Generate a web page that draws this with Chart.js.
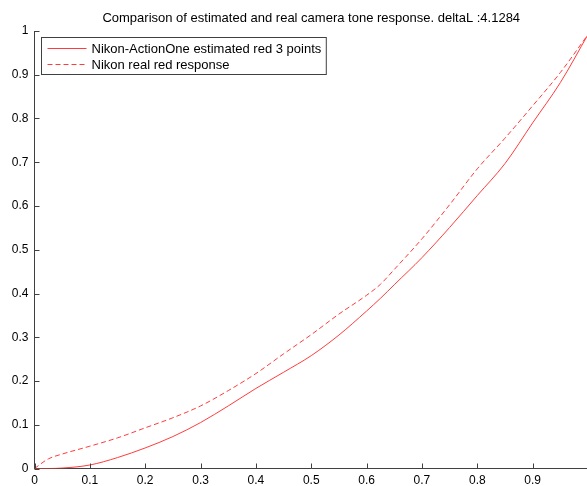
<!DOCTYPE html>
<html>
<head>
<meta charset="utf-8">
<script src="https://cdn.jsdelivr.net/npm/chart.js@4/dist/chart.umd.min.js"></script>
<style>
  html, body { margin: 0; padding: 0; background: #fff; overflow: hidden; }
  #wrap { position: relative; width: 588px; height: 486px; }
</style>
</head>
<body>
<div id="wrap"><canvas id="c"></canvas></div>
<script>
// Normalised input level (x) for both tone curves
const inputLevels = [0, 0.025, 0.05, 0.1, 0.15, 0.2, 0.25, 0.3, 0.35, 0.4, 0.45, 0.5,
                     0.55, 0.6, 0.625, 0.65, 0.7, 0.75, 0.8, 0.85, 0.9, 0.95, 1.0];

// Estimated red response (3-point fit)
const estimatedRed = [0, 0.0, 0.001, 0.008, 0.025, 0.047, 0.073, 0.105, 0.143, 0.183, 0.220, 0.258,
                      0.305, 0.360, 0.389, 0.420, 0.482, 0.551, 0.624, 0.697, 0.790, 0.882, 0.992];

// Measured red response of the camera
const realRed = [0, 0.022, 0.033, 0.051, 0.070, 0.093, 0.116, 0.143, 0.178, 0.217, 0.262, 0.306,
                 0.353, 0.396, 0.421, 0.455, 0.525, 0.603, 0.685, 0.755, 0.829, 0.905, 0.992];

const xTicks = [0, 0.1, 0.2, 0.3, 0.4, 0.5, 0.6, 0.7, 0.8, 0.9];
const yTicks = [0, 0.1, 0.2, 0.3, 0.4, 0.5, 0.6, 0.7, 0.8, 0.9, 1];

const seriesLabels = ['Nikon-ActionOne estimated red 3 points', 'Nikon real red response'];
const titleText = 'Comparison of estimated and real camera tone response. deltaL :4.1284';

const FONT = '"Liberation Sans", Arial, Helvetica, sans-serif';
const AXIS = '#404040';
const RED = 'rgb(255,60,60)';

const toPoints = (ys) => inputLevels.map((x, i) => ({ x, y: ys[i] }));

// Title centred over the plotting area
const titlePlugin = {
  id: 'axesTitle',
  afterDraw(chart) {
    const { ctx, chartArea } = chart;
    ctx.save();
    ctx.font = '13px ' + FONT;
    ctx.fillStyle = '#000';
    ctx.textAlign = 'center';
    ctx.textBaseline = 'middle';
    ctx.fillText(titleText, (chartArea.left + chartArea.right) / 2, 18);
    ctx.restore();
  }
};

// Tick marks pointing into the plot
const innerTicks = {
  id: 'innerTicks',
  afterDraw(chart) {
    const { ctx, chartArea, scales } = chart;
    ctx.save();
    ctx.strokeStyle = AXIS;
    ctx.lineWidth = 1;
    ctx.beginPath();
    xTicks.concat([1]).forEach(v => {
      const px = Math.round(scales.x.getPixelForValue(v)) + 0.5;
      ctx.moveTo(px, chartArea.bottom);
      ctx.lineTo(px, chartArea.bottom - 5);
    });
    yTicks.forEach(v => {
      const py = Math.round(scales.y.getPixelForValue(v)) + 0.5;
      ctx.moveTo(chartArea.left, py);
      ctx.lineTo(chartArea.left + 5, py);
    });
    ctx.stroke();
    ctx.restore();
  }
};

// Boxed legend in the upper-left corner of the plot
const boxLegend = {
  id: 'boxLegend',
  afterDraw(chart) {
    const { ctx, chartArea } = chart;
    const ds = chart.data.datasets;
    ctx.save();
    ctx.font = '13px ' + FONT;
    const textW = Math.max(...ds.map(d => ctx.measureText(d.label).width));
    const left = Math.round(chartArea.left + 6) + 0.5;
    const top = Math.round(chartArea.top + 6) + 0.5;
    const rowH = 16;
    const sampleW = 39;
    const w = 5 + sampleW + 5 + textW + 6;
    const h = 10 + rowH * ds.length - rowH + 11;
    ctx.fillStyle = '#fff';
    ctx.fillRect(left, top, w, h);
    ctx.strokeStyle = AXIS;
    ctx.lineWidth = 1;
    ctx.strokeRect(left, top, w, h);
    ds.forEach((d, i) => {
      const y = Math.round(top + 10 + i * rowH) + 0.5;
      ctx.strokeStyle = d.borderColor;
      ctx.lineWidth = 1;
      ctx.setLineDash(d.borderDash || []);
      ctx.beginPath();
      ctx.moveTo(left + 6, y);
      ctx.lineTo(left + 6 + sampleW, y);
      ctx.stroke();
      ctx.setLineDash([]);
      ctx.fillStyle = '#000';
      ctx.textBaseline = 'middle';
      ctx.textAlign = 'left';
      ctx.fillText(d.label, left + 6 + sampleW + 5, y + 0.5);
    });
    ctx.restore();
  }
};

new Chart(document.getElementById('c'), {
  type: 'line',
  data: {
    datasets: [
      {
        label: seriesLabels[0],
        data: toPoints(estimatedRed),
        borderColor: RED,
        borderWidth: 1,
        pointRadius: 0,
        cubicInterpolationMode: 'monotone',
        fill: false
      },
      {
        label: seriesLabels[1],
        data: toPoints(realRed),
        borderColor: RED,
        borderWidth: 1,
        borderDash: [5, 3],
        pointRadius: 0,
        cubicInterpolationMode: 'monotone',
        fill: false
      }
    ]
  },
  options: {
    responsive: true,
    maintainAspectRatio: false,
    animation: false,
    layout: { padding: { top: 31, right: 0, left: 0, bottom: 0 } },
    plugins: {
      legend: { display: false },
      title: { display: false },
      tooltip: { enabled: false }
    },
    scales: {
      x: {
        type: 'linear',
        min: 0,
        max: 1,
        afterFit(scale) { scale.height = 17.5; },
        afterBuildTicks(scale) { scale.ticks = xTicks.map(v => ({ value: v })); },
        grid: { drawOnChartArea: false, drawTicks: false },
        border: { display: true, color: AXIS, width: 1 },
        ticks: {
          color: '#000',
          font: { family: FONT, size: 12 },
          padding: 5,
          maxRotation: 0,
          callback: (v) => String(Math.round(v * 10) / 10)
        }
      },
      y: {
        type: 'linear',
        min: 0,
        max: 1,
        afterFit(scale) { scale.width = 34.5; },
        afterBuildTicks(scale) { scale.ticks = yTicks.map(v => ({ value: v })); },
        grid: { drawOnChartArea: false, drawTicks: false },
        border: { display: true, color: AXIS, width: 1 },
        ticks: {
          color: '#000',
          font: { family: FONT, size: 12 },
          padding: 6,
          callback: (v) => String(Math.round(v * 10) / 10)
        }
      }
    }
  },
  plugins: [titlePlugin, innerTicks, boxLegend]
});
</script>
</body>
</html>
